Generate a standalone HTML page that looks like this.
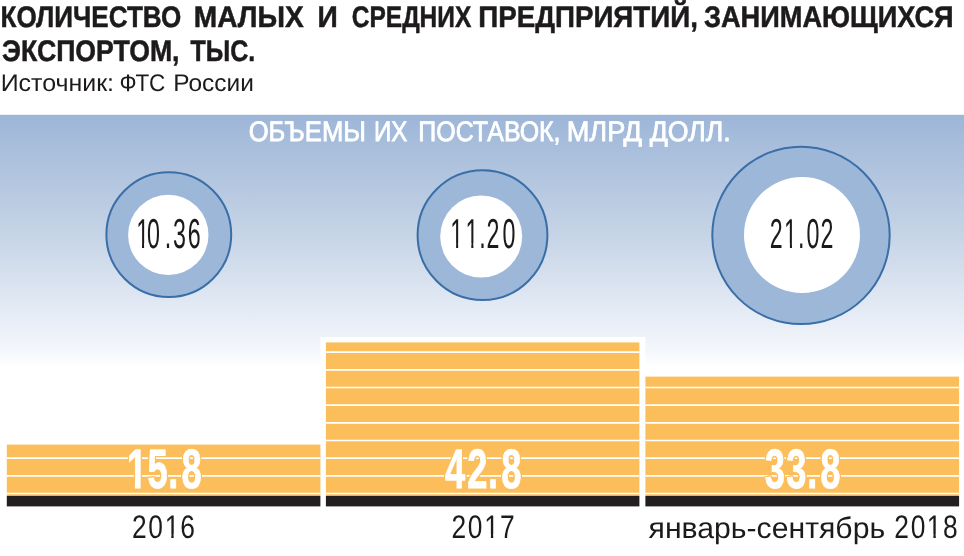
<!DOCTYPE html>
<html lang="ru">
<head>
<meta charset="utf-8">
<title>Количество малых и средних предприятий, занимающихся экспортом</title>
<style>
html,body{margin:0;padding:0;background:#fff;}
svg{display:block;}
text{font-family:"Liberation Sans",sans-serif;}
</style>
</head>
<body>
<svg width="964" height="556" viewBox="0 0 964 556" text-rendering="geometricPrecision">
<defs>
<linearGradient id="bg" gradientUnits="userSpaceOnUse" x1="0" y1="115" x2="0" y2="367">
<stop offset="0" stop-color="#9db6d8"/>
<stop offset="0.478" stop-color="#c6d4e6"/>
<stop offset="0.817" stop-color="#e8eef7"/>
<stop offset="0.936" stop-color="#f4f7fb"/>
<stop offset="1" stop-color="#ffffff"/>
</linearGradient>
<clipPath id="c1"><rect x="108.4" y="197.72" width="140.6" height="45.75"/><rect x="108.4" y="242.47" width="28.03" height="20.95"/><rect x="142.01" y="242.47" width="2.06" height="20.95"/><rect x="149.46" y="242.47" width="99.54" height="20.95"/></clipPath><clipPath id="c2"><rect x="422.5" y="197.72" width="140.8" height="45.75"/><rect x="422.5" y="242.47" width="28.03" height="20.95"/><rect x="456.11" y="242.47" width="2.06" height="20.95"/><rect x="463.56" y="242.47" width="2.17" height="20.95"/><rect x="471.31" y="242.47" width="2.06" height="20.95"/><rect x="478.76" y="242.47" width="84.54" height="20.95"/></clipPath><clipPath id="c3"><rect x="740.8" y="197.72" width="140.9" height="45.75"/><rect x="740.8" y="242.47" width="43.53" height="20.95"/><rect x="789.91" y="242.47" width="2.06" height="20.95"/><rect x="797.36" y="242.47" width="84.34" height="20.95"/></clipPath><clipPath id="c4"><rect x="99.3" y="421.4" width="143.3" height="59.54"/><rect x="99.3" y="479.94" width="28.3" height="27.75"/><rect x="134.95" y="479.94" width="5.69" height="27.75"/><rect x="147.52" y="479.94" width="95.08" height="27.75"/></clipPath><clipPath id="c5"><rect x="103.3" y="498.88" width="138.4" height="35.28"/><rect x="103.3" y="533.16" width="61.87" height="16.3"/><rect x="171.3" y="533.16" width="2.33" height="16.3"/><rect x="179.56" y="533.16" width="62.14" height="16.3"/></clipPath><clipPath id="c6"><rect x="422.9" y="498.88" width="138.4" height="35.28"/><rect x="422.9" y="533.16" width="61.87" height="16.3"/><rect x="490.9" y="533.16" width="2.33" height="16.3"/><rect x="499.16" y="533.16" width="62.14" height="16.3"/></clipPath><clipPath id="c7"><rect x="865.7" y="498.88" width="138.5" height="35.28"/><rect x="865.7" y="533.16" width="61.57" height="16.3"/><rect x="933.4" y="533.16" width="2.33" height="16.3"/><rect x="941.66" y="533.16" width="62.54" height="16.3"/></clipPath>
</defs>
<rect x="0" y="0" width="964" height="556" fill="#ffffff"/>
<!-- title -->
<g fill="#1d1a1b" stroke="#1d1a1b" stroke-width="0.5" font-weight="bold" font-size="29.7">
<text y="27"><tspan x="0.5" textLength="180.78" lengthAdjust="spacingAndGlyphs">КОЛИЧЕСТВО</tspan> <tspan x="193.75" textLength="110.03" lengthAdjust="spacingAndGlyphs">МАЛЫХ</tspan> <tspan x="317.5" textLength="20.28" lengthAdjust="spacingAndGlyphs">И</tspan> <tspan x="351.75" textLength="119.5" lengthAdjust="spacingAndGlyphs">СРЕДНИХ</tspan> <tspan x="478.25" textLength="219.6" lengthAdjust="spacingAndGlyphs">ПРЕДПРИЯТИЙ,</tspan> <tspan x="703.95" textLength="249.66" lengthAdjust="spacingAndGlyphs">ЗАНИМАЮЩИХСЯ</tspan></text>
<text y="61"><tspan x="2" textLength="177.52" lengthAdjust="spacingAndGlyphs">ЭКСПОРТОМ,</tspan> <tspan x="190.5" textLength="64.79" lengthAdjust="spacingAndGlyphs">ТЫС.</tspan></text>
</g>
<text y="91" font-size="24" fill="#1d1a1b"><tspan x="0.7" textLength="113.36" lengthAdjust="spacingAndGlyphs">Источник:</tspan> <tspan x="119.55" textLength="45.81" lengthAdjust="spacingAndGlyphs">ФТС</tspan> <tspan x="173.3" textLength="80.57" lengthAdjust="spacingAndGlyphs">России</tspan></text>
<!-- panel -->
<rect x="0" y="114.8" width="964" height="253" fill="url(#bg)"/>
<text y="141" font-size="28.2" fill="#ffffff" stroke="#ffffff" stroke-width="0.8"><tspan x="248.65" textLength="117.26" lengthAdjust="spacingAndGlyphs">ОБЪЕМЫ</tspan> <tspan x="373.95" textLength="33.34" lengthAdjust="spacingAndGlyphs">ИХ</tspan> <tspan x="418.35" textLength="142.19" lengthAdjust="spacingAndGlyphs">ПОСТАВОК,</tspan> <tspan x="566.75" textLength="75.09" lengthAdjust="spacingAndGlyphs">МЛРД</tspan> <tspan x="649.65" textLength="81.09" lengthAdjust="spacingAndGlyphs">ДОЛЛ.</tspan></text>
<!-- circles -->
<g fill="#9db7d9" stroke="#3a6ea7" stroke-width="2">
<circle cx="168.8" cy="234.6" r="62.4"/>
<circle cx="482.5" cy="235.1" r="64.9"/>
<circle cx="801" cy="235.4" r="88.7"/>
</g>
<g fill="#ffffff">
<circle cx="168.3" cy="234.9" r="40.2"/>
<circle cx="481.2" cy="236.5" r="41"/>
<circle cx="802" cy="235" r="58"/>
</g>
<g fill="#1d1a1b">
<g clip-path="url(#c1)"><text transform="scale(0.555 1)" x="245.34 265.03 296.71 311.56 338.41" y="248" font-size="41.9">10.36</text></g>
<g clip-path="url(#c2)"><text transform="scale(0.555 1)" x="811.28 838.67 863.56 876.81 905.21" y="248" font-size="41.9">11.20</text></g>
<g clip-path="url(#c3)"><text transform="scale(0.555 1)" x="1386.72 1412.73 1437.8 1453.32 1478.43" y="248" font-size="41.9">21.02</text></g>
</g>
<!-- bars -->
<rect x="320.5" y="337" width="324.8" height="170" fill="#ffffff"/>
<g fill="#fcbe5b">
<rect x="6.8" y="444.6" width="313.6" height="51.3"/>
<rect x="325.9" y="342.4" width="313.5" height="153.5"/>
<rect x="645.4" y="376.6" width="313.7" height="119.3"/>
</g>
<g stroke="#ffffff" stroke-width="1.7" fill="none">
<path d="M6.8 458.2H320.4M6.8 475.8H320.4M6.8 493.5H320.4"/>
<path d="M325.9 352.1H639.4M325.9 369.8H639.4M325.9 387.5H639.4M325.9 405.15H639.4M325.9 422.8H639.4M325.9 440.5H639.4M325.9 458.2H639.4M325.9 475.8H639.4M325.9 493.5H639.4"/>
<path d="M645.4 387.5H959.1M645.4 405.15H959.1M645.4 422.8H959.1M645.4 440.5H959.1M645.4 458.2H959.1M645.4 475.8H959.1M645.4 493.5H959.1"/>
</g>
<g fill="#231f20">
<rect x="6.8" y="495.9" width="313.6" height="10.5"/>
<rect x="325.9" y="495.9" width="313.5" height="10.5"/>
<rect x="645.4" y="495.9" width="313.7" height="10.5"/>
</g>
<g fill="#ffffff" stroke="#ffffff" stroke-width="0.8" style="filter:drop-shadow(1px 0 0 #fcbe5b) drop-shadow(-1px 0 0 #fcbe5b) drop-shadow(0 1px 0 #fcbe5b) drop-shadow(0 -1px 0 #fcbe5b)">
<g clip-path="url(#c4)"><text transform="scale(0.655 1)" x="193.61 225.16 256.84 277.02" y="488" font-size="55.5" font-weight="bold">15.8</text></g>
<text transform="scale(0.655 1)" x="679.47 713.19 745.09 765.26" y="488" font-size="55.5" font-weight="bold">42.8</text>
<text transform="scale(0.655 1)" x="1167.58 1200.41 1232.57 1252.28" y="488" font-size="55.5" font-weight="bold">33.8</text>
</g>
<!-- labels -->
<g fill="#1d1a1b">
<g clip-path="url(#c5)"><text transform="scale(0.81 1)" x="162.93 183.05 203.28 222.67" y="538" font-size="32.6">2016</text></g>
<g clip-path="url(#c6)"><text transform="scale(0.81 1)" x="557.5 577.62 597.85 617.22" y="538" font-size="32.6">2017</text></g>
<text y="538" font-size="29.5"><tspan x="648.55" textLength="236.61" lengthAdjust="spacingAndGlyphs">январь-сентябрь</tspan></text>
<g clip-path="url(#c7)"><text transform="scale(0.81 1)" x="1104.16 1124.41 1144.15 1164.26" y="538" font-size="32.6">2018</text></g>
</g>
</svg>
</body>
</html>
